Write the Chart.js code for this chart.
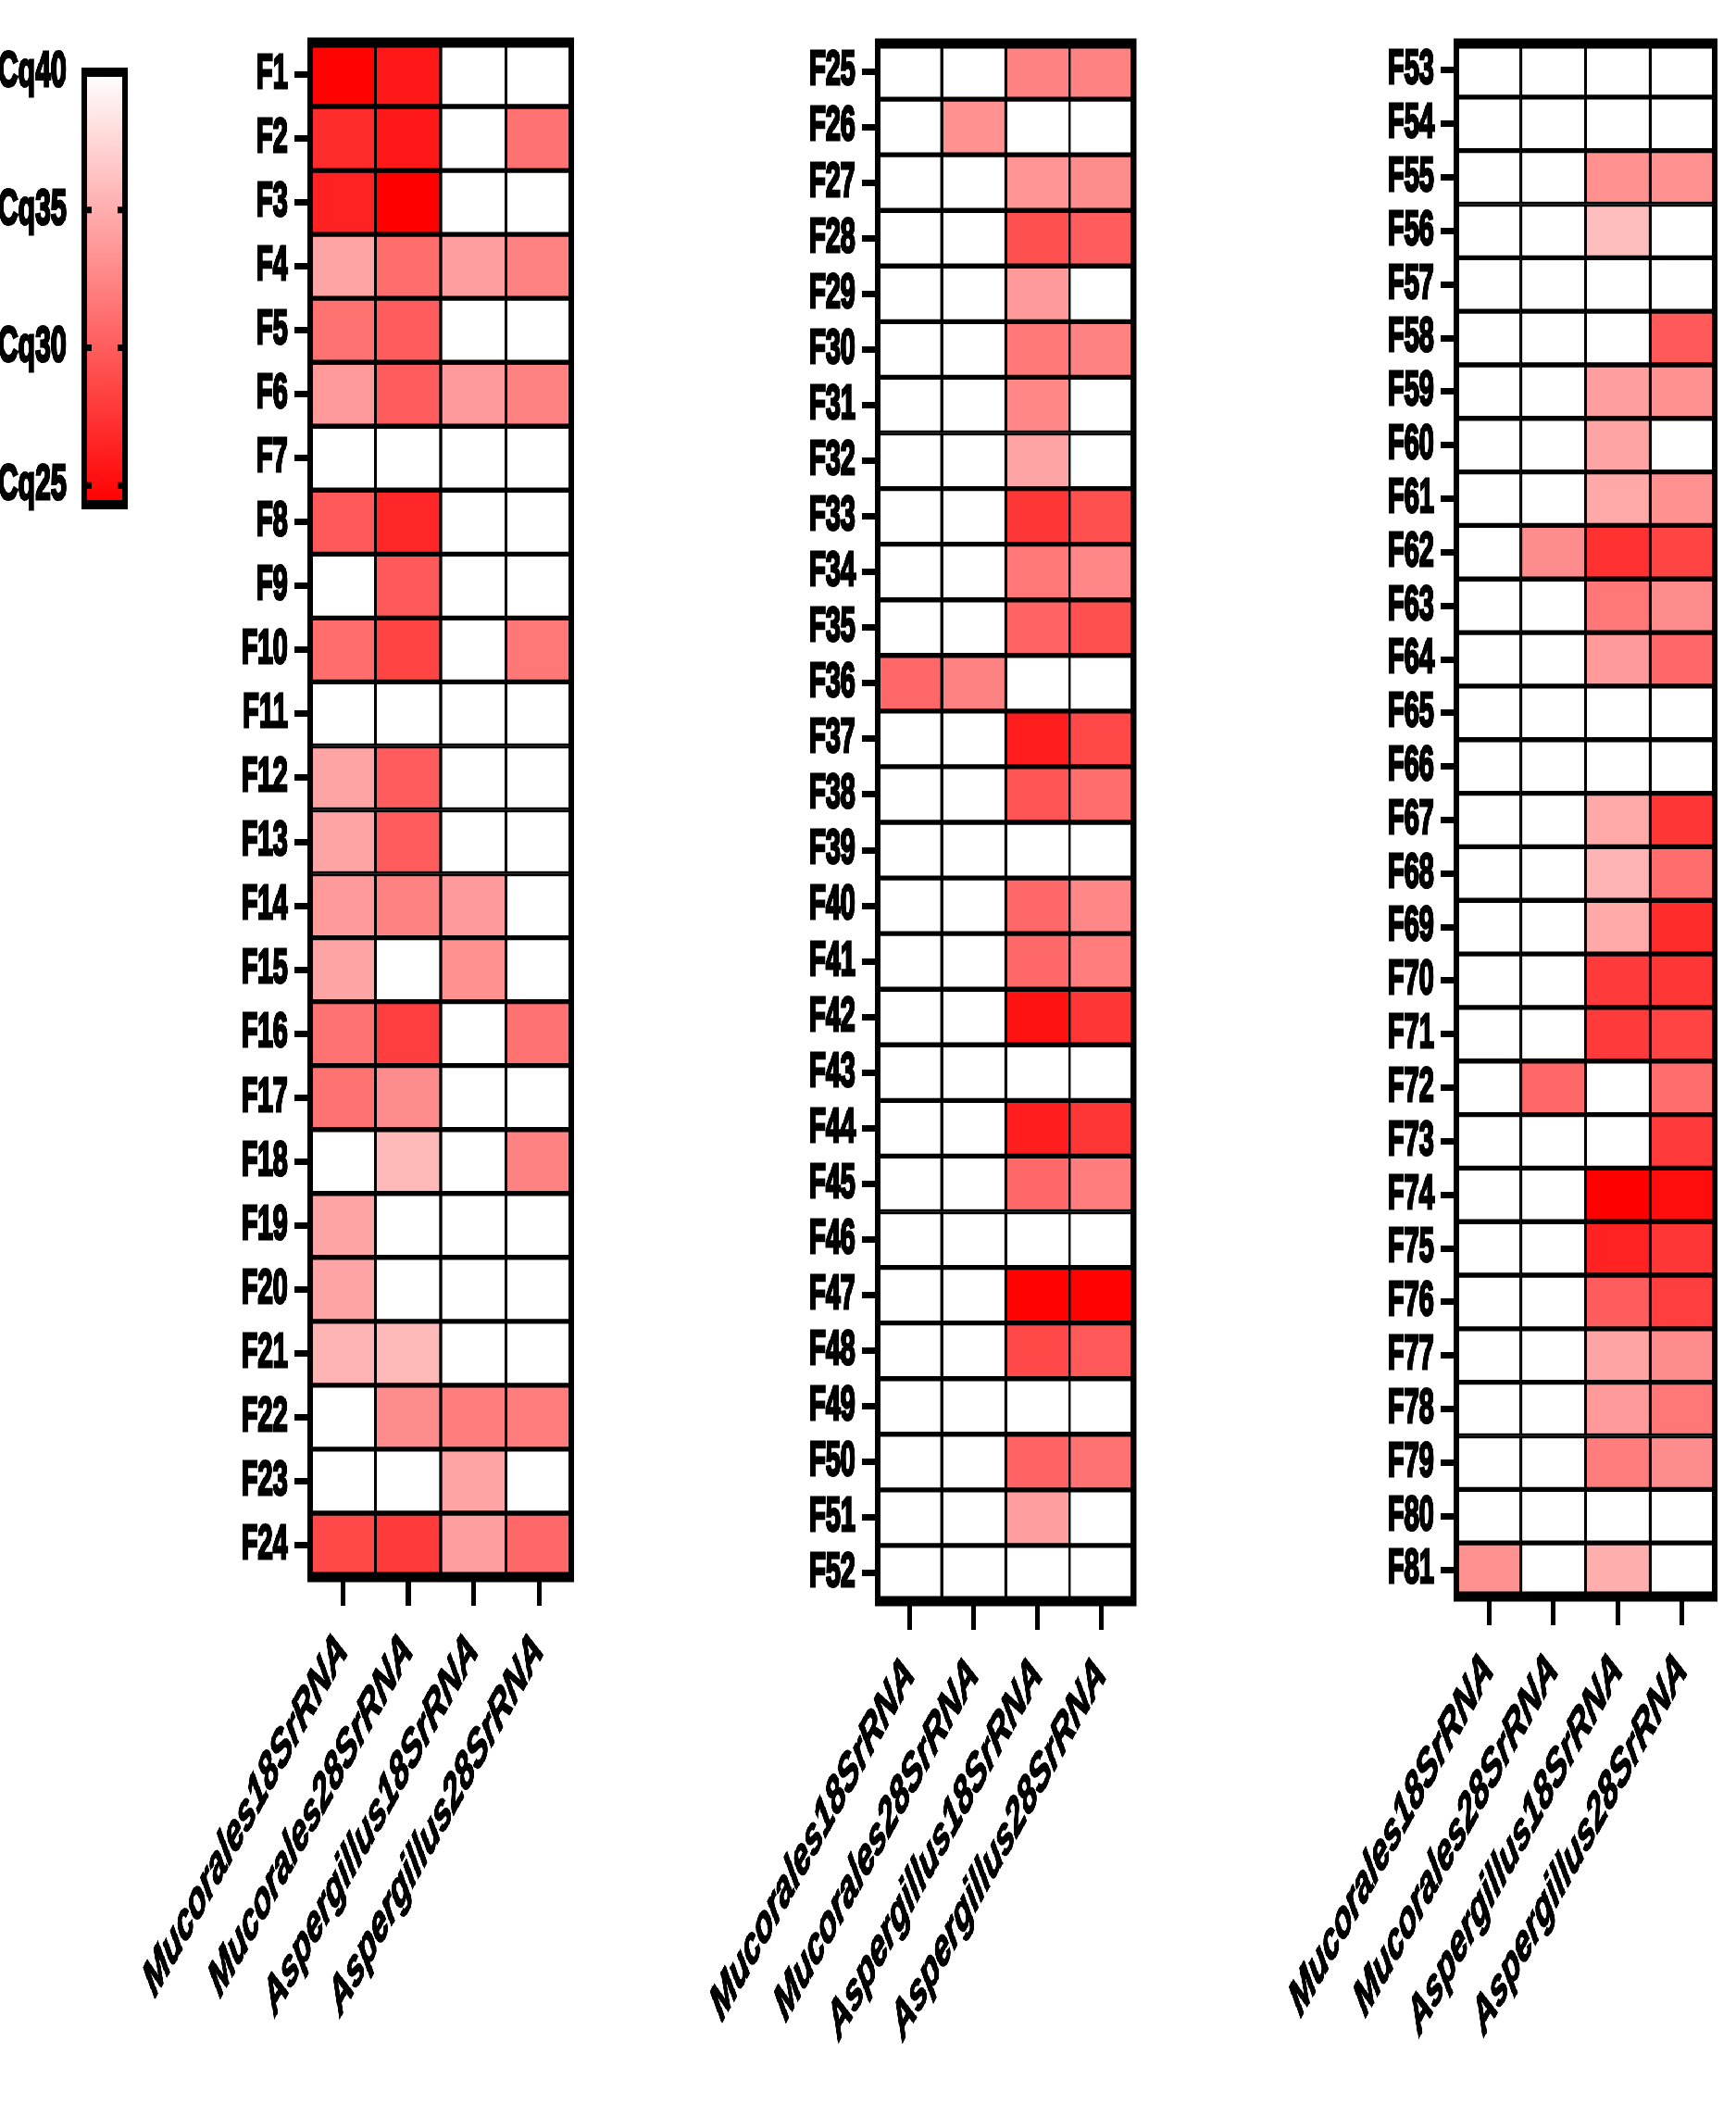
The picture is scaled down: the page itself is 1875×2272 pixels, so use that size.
<!DOCTYPE html>
<html>
<head>
<meta charset="utf-8">
<script src="https://cdn.jsdelivr.net/npm/chart.js@4.4.1/dist/chart.umd.min.js"></script>
<style>
html, body { margin: 0; padding: 0; background: #fff; overflow: hidden; }
/* the figure is horizontally compressed, so draw wide and squeeze */
#page { position: relative; width: 3348px; height: 2272px; transform: scaleX(0.56); transform-origin: 0 0; }
#page canvas { position: absolute; top: 0; }
</style>
</head>
<body>
<div id="page">
  <canvas id="bar" width="270" height="620" style="left:0"></canvas>
  <canvas id="p1" width="920" height="2272" style="left:230px"></canvas>
  <canvas id="p2" width="910" height="2272" style="left:1320px"></canvas>
  <canvas id="p3" width="918" height="2272" style="left:2430px"></canvas>
</div>
<script>
var genes = ['Mucorales18SrRNA', 'Mucorales28SrRNA', 'Aspergillus18SrRNA', 'Aspergillus28SrRNA'];

var samples = ['F1','F2','F3','F4','F5','F6','F7','F8','F9','F10','F11','F12','F13','F14','F15','F16',
  'F17','F18','F19','F20','F21','F22','F23','F24','F25','F26','F27','F28','F29','F30','F31','F32',
  'F33','F34','F35','F36','F37','F38','F39','F40','F41','F42','F43','F44','F45','F46','F47','F48',
  'F49','F50','F51','F52','F53','F54','F55','F56','F57','F58','F59','F60','F61','F62','F63','F64',
  'F65','F66','F67','F68','F69','F70','F71','F72','F73','F74','F75','F76','F77','F78','F79','F80','F81'];

// Cq per sample, null = not detected (white)
var mucorales18 = [
  24.5, 27.0, 26.4, 34.4, 31.3, 33.8, null, 29.8, null, 31.0, null, 34.4,
  34.4, 33.8, 34.4, 31.3, 31.3, null, 34.4, 34.4, 35.4, null, null, 28.8,
  null, null, null, null, null, null, null, null, null, null, null, 30.7, null, null,
  null, null, null, null, null, null, null, null, null, null, null, null, null, null,
  null, null, null, null, null, null, null, null, null, null, null, null, null, null, null,
  null, null, null, null, null, null, null, null, null, null, null, null, null, 33.2];
var mucorales28 = [
  25.8, 25.8, 24.2, 31.0, 30.0, 30.0, null, 26.7, 29.8, 28.5, null, 30.0,
  30.0, 32.3, null, 28.2, 32.9, 35.7, null, null, 35.7, 32.9, null, 27.9,
  null, 33.2, null, null, null, null, null, null, null, null, null, 32.3, null, null,
  null, null, null, null, null, null, null, null, null, null, null, null, null, null,
  null, null, null, null, null, null, null, null, null, 32.9, null, null, null, null, null,
  null, null, null, null, 30.7, null, null, null, null, null, null, null, null, null];
var aspergillus18 = [
  null, null, null, 34.0, null, 33.8, null, null, null, null, null, null,
  null, 33.8, 33.2, null, null, null, null, null, null, 32.0, 34.4, 34.0,
  32.3, null, 33.5, 29.2, 33.8, 31.6, 32.6, 34.4, 27.6, 31.6, 30.4, null, 26.1, 29.5,
  null, 30.7, 30.7, 25.4, null, 26.1, 30.7, null, 24.5, 28.8, null, 30.4, 34.0, null,
  null, null, 33.2, 36.0, null, null, 34.0, 34.4, 34.7, 27.3, 31.6, 33.8, null, null, 34.7,
  35.4, 34.7, 27.9, 27.9, null, null, 24.2, 26.4, 30.0, 34.4, 33.8, 32.0, null, 35.0];
var aspergillus28 = [
  null, 31.3, null, 32.3, null, 32.3, null, null, null, 31.6, null, null,
  null, null, null, 31.3, null, 32.3, null, null, null, 32.0, null, 30.7,
  32.3, null, 32.9, 30.0, null, 32.3, null, null, 29.2, 32.6, 29.2, null, 28.8, 31.0,
  null, 32.6, 32.0, 27.6, null, 27.6, 32.0, null, 24.5, 29.8, null, 31.3, null, null,
  null, null, 33.2, null, null, 29.8, 33.2, null, 33.2, 28.5, 32.9, 30.7, null, null, 27.6,
  31.0, 27.0, 27.6, 28.5, 31.0, 27.9, 25.1, 27.6, 28.2, 32.9, 31.6, 32.9, null, null];

var panelSizes = [24, 28, 29];
var cqTicks = [25, 30, 35, 40];
var CQ_MIN = 24.3, CQ_MAX = 40.0;

function cqColor(cq) {
    if (cq === null || cq === undefined) return '#ffffff';
    var t = (cq - CQ_MIN) / (CQ_MAX - CQ_MIN);
    t = Math.max(0, Math.min(1, t));
    var g = Math.round(255 * t);
    return 'rgb(255,' + g + ',' + g + ')';
}

Chart.defaults.font.family = '"Liberation Sans", Arial, Helvetica, sans-serif';
Chart.defaults.color = '#000';
Chart.defaults.animation = false;

// thick black box round the plot area
var frame = {
    id: 'frame',
    afterDatasetsDraw: function (chart, args, opts) {
        var a = chart.chartArea, c = chart.ctx;
        c.save();
        c.strokeStyle = '#000';
        c.lineWidth = opts.width;
        c.strokeRect(a.left, a.top, a.right - a.left, a.bottom - a.top);
        c.restore();
    }
};

// little inner ticks on the colour scale
var cqMarks = {
    id: 'cqMarks',
    afterDatasetsDraw: function (chart, args, opts) {
        var a = chart.chartArea, c = chart.ctx, y = chart.scales.y;
        c.save();
        c.strokeStyle = '#000';
        c.lineWidth = opts.width;
        opts.values.forEach(function (v) {
            var py = y.getPixelForValue(v);
            c.beginPath();
            c.moveTo(a.left, py); c.lineTo(a.left + opts.length, py);
            c.moveTo(a.right - opts.length, py); c.lineTo(a.right, py);
            c.stroke();
        });
        c.restore();
    }
};

var series = [mucorales18, mucorales28, aspergillus18, aspergillus28];

function heatmap(id, start, count, padLeft, padRight, top, xHeight) {
    var rows = samples.slice(start, start + count);
    var datasets = rows.map(function (name, i) {
        return {
            label: name,
            data: genes.map(function () { return 1; }),
            cq: series.map(function (s) { return s[start + i]; }),
            backgroundColor: series.map(function (s) { return cqColor(s[start + i]); }),
            borderColor: '#000',
            borderWidth: 3,
            borderSkipped: false,
            categoryPercentage: 1,
            barPercentage: 1
        };
    });
    return new Chart(document.getElementById(id), {
        type: 'bar',
        data: { labels: genes, datasets: datasets },
        options: {
            responsive: false,
            layout: { padding: { left: padLeft, right: padRight, top: top, bottom: 0 } },
            plugins: {
                legend: { display: false },
                tooltip: {
                    callbacks: {
                        label: function (ctx) {
                            var v = ctx.dataset.cq[ctx.dataIndex];
                            return ctx.dataset.label + ': ' + (v === null ? 'ND' : 'Cq ' + v);
                        }
                    }
                },
                frame: { width: 11 }
            },
            scales: {
                x: {
                    stacked: true,
                    offset: true,
                    border: { display: false },
                    grid: { offset: false, drawOnChartArea: false, drawTicks: true, tickLength: 31, lineWidth: 9, color: '#000' },
                    ticks: {
                        autoSkip: false, minRotation: 45, maxRotation: 45, padding: 15,
                        textStrokeColor: '#000', textStrokeWidth: 2,
                        font: { size: 57, weight: 'bold', style: 'italic' }
                    },
                    afterFit: function (s) { s.height = xHeight; s.paddingLeft = 0; s.paddingRight = 0; }
                },
                y: {
                    stacked: true,
                    min: 0,
                    max: count,
                    reverse: true,
                    border: { display: false },
                    grid: { drawOnChartArea: false, drawTicks: true, tickLength: 30, lineWidth: 7, color: '#000' },
                    afterBuildTicks: function (s) {
                        s.ticks = rows.map(function (_, i) { return { value: i + 0.5 }; });
                    },
                    ticks: {
                        autoSkip: false, padding: 13,
                        textStrokeColor: '#000', textStrokeWidth: 3,
                        font: { size: 52, weight: 'bold' },
                        callback: function (v, i) { return rows[i]; }
                    },
                    afterFit: function (s) { s.width = 200; s.paddingTop = 0; s.paddingBottom = 0; }
                }
            }
        },
        plugins: [frame]
    });
}

heatmap('p1', 0, panelSizes[0], 168, 48, 46, 2272 - 1703);
heatmap('p2', panelSizes[0], panelSizes[1], 173, 44, 47, 2272 - 1729);
heatmap('p3', panelSizes[0] + panelSizes[1], panelSizes[2], 179, 41, 47, 2272 - 1724);

// colour scale
new Chart(document.getElementById('bar'), {
    type: 'bar',
    data: {
        labels: ['Cq'],
        datasets: [{
            data: [[CQ_MIN, CQ_MAX]],
            backgroundColor: function (ctx) {
                var chart = ctx.chart;
                if (!chart.chartArea) return '#fff';
                var y = chart.scales.y;
                var g = chart.ctx.createLinearGradient(0, y.getPixelForValue(CQ_MIN), 0, y.getPixelForValue(CQ_MAX));
                g.addColorStop(0, cqColor(CQ_MIN));
                g.addColorStop(1, cqColor(CQ_MAX));
                return g;
            },
            borderWidth: 0,
            categoryPercentage: 1,
            barPercentage: 1
        }]
    },
    options: {
        responsive: false,
        layout: { padding: { left: 0, right: 29, top: 78, bottom: 75 } },
        plugins: {
            legend: { display: false },
            tooltip: { enabled: false },
            frame: { width: 10 },
            cqMarks: { values: [25, 30, 35], length: 15, width: 7 }
        },
        scales: {
            x: { display: false },
            y: {
                min: CQ_MIN,
                max: CQ_MAX,
                border: { display: false },
                grid: { display: false, drawTicks: false },
                afterBuildTicks: function (s) {
                    s.ticks = cqTicks.map(function (v) { return { value: v }; });
                },
                ticks: {
                    padding: 34,
                    textStrokeColor: '#000', textStrokeWidth: 3,
                    font: { size: 54, weight: 'bold' },
                    callback: function (v) { return 'Cq' + v; }
                },
                afterFit: function (s) { s.width = 162; s.paddingTop = 0; s.paddingBottom = 0; }
            }
        }
    },
    plugins: [frame, cqMarks]
});
</script>
</body>
</html>
